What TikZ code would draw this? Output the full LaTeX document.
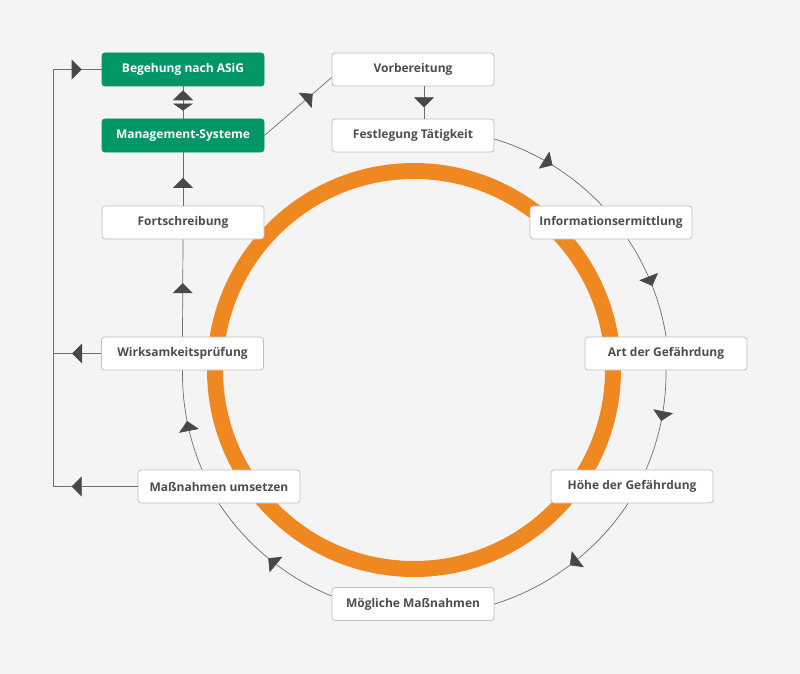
\documentclass[tikz,border=0pt]{standalone}
\usepackage{fontspec}
\setmainfont{Open Sans}
\usepackage{xcolor}
\usepackage{tikz}
\usetikzlibrary{arrows.meta,decorations.markings}
\definecolor{bgcol}{RGB}{244,244,244}
\definecolor{green1}{RGB}{0,150,102}
\definecolor{orange1}{RGB}{240,136,34}
\definecolor{line1}{RGB}{110,110,110}
\definecolor{tip1}{RGB}{72,72,72}
\definecolor{border1}{RGB}{192,192,192}
\definecolor{text1}{RGB}{77,77,77}

\begin{document}
\begin{tikzpicture}[x=1pt, y=1pt,
  box/.style={rectangle, draw=border1, line width=0.8pt, fill=white, rounded corners=3pt,
    minimum width=162pt, minimum height=33pt, inner sep=0pt,
    font=\bfseries\fontsize{12}{14}\selectfont, text=text1},
  greenbox/.style={box, draw=green1, fill=green1, text=white},
  flow/.style={draw=line1, line width=0.7pt},
  around/.style={flow, looseness=0.86},
  >={Triangle[length=10pt, width=20pt, color=tip1]},
  mid arrow/.style={postaction={decorate}, decoration={markings, mark=at position #1 with {\arrow{>}}}}]
% Background
\fill[bgcol] (0,0) rectangle (800,-674);
\useasboundingbox (0,0) rectangle (800,-674);

% Ring
\draw[orange1, line width=16pt] (414,-370) circle (199);

% Boxes
\node[greenbox] (beg) at (183,-69.5) {Begehung nach ASiG};
\node[greenbox] (mgmt) at (183,-135.5) {Management-Systeme};
\node[box] (vorb) at (413,-69.5) {Vorbereitung};
\node[box] (fest) at (413,-135.5) {Festlegung Tätigkeit};
\node[box] (info) at (611,-222.5) {Informationsermittlung};
\node[box] (art) at (666,-353.5) {Art der Gefährdung};
\node[box] (hohe) at (632,-486.5) {Höhe der Gefährdung};
\node[box] (mog) at (413,-604) {Mögliche Maßnahmen};
\node[box] (mass) at (219,-486.5) {Maßnahmen umsetzen};
\node[box] (wirk) at (182.5,-353.5) {Wirksamkeitsprüfung};
\node[box] (fort) at (183,-222.5) {Fortschreibung};

% Corners
\coordinate (top) at (53,-69.5);
\coordinate (bot) at (53,-486.5);

%Cycle
\draw[around, mid arrow=0.5] ([yshift=-3.5pt]fest.east) to[bend left=15] ([xshift=-9pt]info.north);
\draw[around, mid arrow=0.5] ([xshift=17pt]info.south) to[bend left=12.5] (art.north);
\draw[around, mid arrow=0.5] (art.south) to[bend left=12] ([xshift=14pt]hohe.north);
\draw[around, mid arrow=0.5] ([xshift=-4pt]hohe.south) to[bend left=20] (mog.east);
\draw[around, mid arrow=0.5] ([yshift=8pt]mog.west) to[bend left=17.5] (mass.south);
\draw[around, mid arrow=0.5] ([xshift=-17pt]mass.north) to[bend left=12] (wirk.south);

%Lines
\draw[flow, mid arrow=0.55] (wirk.north) -- (fort.south);
\draw[flow, mid arrow=0.52] (fort.north) -- (mgmt.south);
\draw[flow, postaction={decorate}, decoration={markings,
    mark=at position 0.88 with {\arrow{>}},
    mark=at position 0.25 with {\arrowreversed{Triangle[length=7pt, width=20pt, color=tip1]}}}]
  (mgmt.north) -- (beg.south);
\draw[flow, mid arrow=0.72] (mgmt.east) -- ([yshift=-8pt]vorb.west);
\draw[flow, mid arrow=0.65] ([xshift=11pt]vorb.south) -- ([xshift=11pt]fest.north);
\draw[flow, mid arrow=0.6] (wirk.west) -- (wirk.west -| top);
\draw[flow, mid arrow=0.78] (mass.west) -- (bot);
\draw[flow] (bot) -- (top);
\draw[flow, mid arrow=0.59] (top) -- (beg.west);
\end{tikzpicture}
\end{document}
